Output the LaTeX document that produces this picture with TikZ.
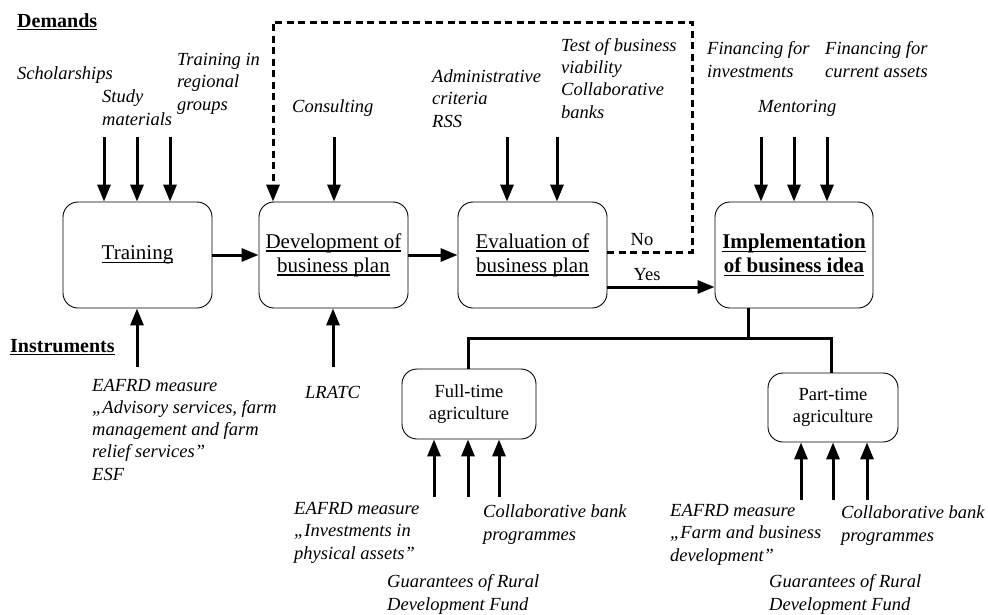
\documentclass[tikz,border=0pt]{standalone}
\usepackage{fontspec}
\setmainfont{Liberation Serif}
\usetikzlibrary{arrows.meta}
\newcommand\ulx[1]{\setbox0\hbox{#1}\rlap{\rule[-0.16em]{\wd0}{0.06em}}\box0}
\begin{document}
\begin{tikzpicture}[x=1pt,y=-1pt,
  box/.style={draw, line width=0.9pt, rounded corners=15pt, align=center, inner sep=0pt,
    minimum width=149pt, minimum height=106pt, font=\fontsize{21}{24}\selectfont},
  sbox/.style={draw, line width=0.9pt, rounded corners=15pt, align=center, inner sep=0pt,
    minimum height=70pt, font=\fontsize{18.5}{22}\selectfont},
  lab/.style={anchor=base west, align=left, inner sep=0pt, font=\fontsize{18.5}{22.2}\selectfont\itshape},
  head/.style={anchor=base west, inner sep=0pt, font=\fontsize{20}{24}\selectfont\bfseries},
  yn/.style={anchor=base, inner sep=0pt, font=\fontsize{18.5}{22}\selectfont},
  arr/.style={line width=3pt, -{Triangle[length=17pt,width=13pt]}},
  dasharr/.style={line width=3pt, dash pattern=on 7pt off 4.5pt, -{Triangle[length=17pt,width=13pt]}},
  trunk/.style={line width=3pt}
]
\useasboundingbox (0,0) rectangle (988,614);

% main boxes
\node[box] (train) at (137.5,255) {\ulx{Training}};
\node[box] (dev) at (333.5,255) {\ulx{Development of}\\\ulx{business plan}};
\node[box] (eval) at (532.5,255) {\ulx{Evaluation of}\\\ulx{business plan}};
\node[box, minimum width=158pt, font=\fontsize{21}{24}\selectfont\bfseries] (impl) at (794,255) {\ulx{Implementation}\\\ulx{of business idea}};
\node[sbox, minimum width=134pt] (full) at (469,404) {Full-time\\agriculture};
\node[sbox, minimum width=130pt, minimum height=69pt] (part) at (833,407.5) {Part-time\\agriculture};

% headings
\node[head] (dem) at (17,27) {\ulx{Demands}};
\node[head] (ins) at (10,352) {\ulx{Instruments}};

% demand labels (anchor = baseline of last line)
\node[lab] (l1) at (17,79) {Scholarships};
\node[lab] (l2) at (102,125) {Study\\materials};
\node[lab] (l3) at (177,110) {Training in\\regional\\groups};
\node[lab] (l4) at (292,112) {Consulting};
\node[lab] (l5) at (432,127) {Administrative\\criteria\\RSS};
\node[lab] (l6) at (561,118) {Test of business\\viability\\Collaborative\\banks};
\node[lab] (l7) at (707,77) {Financing for\\investments};
\node[lab] (l8) at (825,77) {Financing for\\current assets};
\node[lab] (l9) at (758,112) {Mentoring};

% instrument labels
\node[lab] (b1) at (92,480) {EAFRD measure\\„Advisory services, farm\\management and farm\\relief services”\\ESF};
\node[lab] (b2) at (305,398) {LRATC};
\node[lab] (b3) at (294,559) {EAFRD measure\\„Investments in\\physical assets”};
\node[lab] (b4) at (483,540) {Collaborative bank\\programmes};
\node[lab] (b5) at (387,610) {Guarantees of Rural\\Development Fund};
\node[lab] (b6) at (670,561) {EAFRD measure\\„Farm and business\\development”};
\node[lab] (b7) at (841,541) {Collaborative bank\\programmes};
\node[lab] (b8) at (769,610) {Guarantees of Rural\\Development Fund};

% top arrow starts
\coordinate (t1) at (104,137);
\coordinate (t2) at (137,137);
\coordinate (t3) at (170,137);
\coordinate (t4) at (334,137);
\coordinate (t5) at (507,137);
\coordinate (t6) at (557,137);
\coordinate (t7) at (761,137);
\coordinate (t8) at (794,137);
\coordinate (t9) at (827,137);
\foreach \c in {t1,t2,t3} \draw[arr] (\c) -- (\c |- train.north);
\draw[arr] (t4) -- (t4 |- dev.north);
\foreach \c in {t5,t6} \draw[arr] (\c) -- (\c |- eval.north);
\foreach \c in {t7,t8,t9} \draw[arr] (\c) -- (\c |- impl.north);

% bottom arrows into main boxes
\coordinate (u1) at (137,367);
\coordinate (u2) at (333,367);
\draw[arr] (u1) -- (u1 |- train.south);
\draw[arr] (u2) -- (u2 |- dev.south);

% flow arrows
\draw[arr] (train.east) -- (dev.west);
\draw[arr] (dev.east) -- (eval.west);
\draw[arr] ([yshift=-32pt]eval.east) -- ([yshift=-32pt]impl.west);
\node[yn] (yes) at (647,280) {Yes};
\node[yn] (no) at (642,245) {No};

% No loop
\coordinate (n1) at (692,22);
\coordinate (n2) at (273,22);
\draw[dasharr] ([yshift=3pt]eval.east) -| (n1) -- (n2) -- (n2 |- dev.north);

% branching
\coordinate (j) at (748,338);
\draw[trunk] (j |- impl.south) -- (j);
\draw[trunk] ([xshift=-1pt]full.north) |- ([xshift=-2pt]part.north |- j) -- ([xshift=-2pt]part.north);

% bottom arrows into sub boxes
\coordinate (f1) at (434,497);
\coordinate (f2) at (468,497);
\coordinate (f3) at (499,497);
\coordinate (p1) at (801,500);
\coordinate (p2) at (833,500);
\coordinate (p3) at (867,500);
\foreach \c in {f1,f2,f3} \draw[arr] (\c) -- (\c |- full.south);
\foreach \c in {p1,p2,p3} \draw[arr] (\c) -- (\c |- part.south);
\end{tikzpicture}
\end{document}
